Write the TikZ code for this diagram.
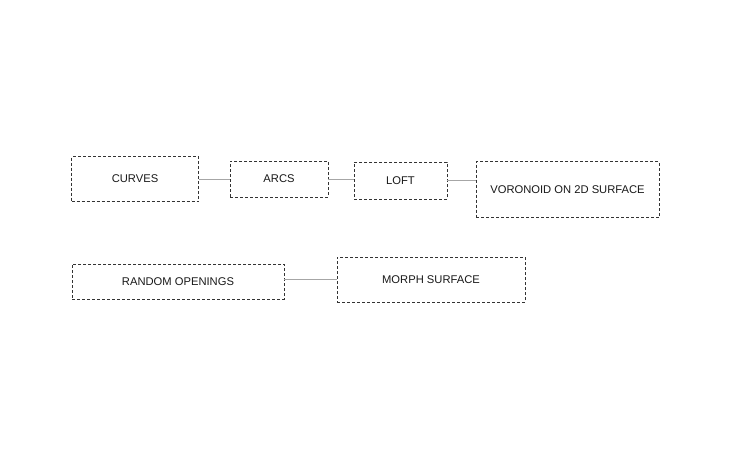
\documentclass[tikz,border=0pt]{standalone}
\usepackage{fontspec}
\setmainfont{Liberation Sans}
\begin{document}
\begin{tikzpicture}[x=1pt,y=-1pt,
  stepbox/.style={draw=black!80, line width=0.9pt, dash pattern=on 3pt off 2pt, rectangle, inner sep=0pt, font=\fontsize{11.2}{13}\selectfont, text=black!90},
  link/.style={draw=black!35, line width=0.9pt}]
\useasboundingbox[fill=white] (0,0) rectangle (730,456);
\node[stepbox, minimum width=127pt, minimum height=45pt] (curves) at (135,179) {CURVES};
\node[stepbox, minimum width=98pt, minimum height=36pt] (arcs) at (279,179) {ARCS};
\node[stepbox, minimum width=93pt, minimum height=37pt] (loft) at (400.5,180.5) {LOFT};
\node[stepbox, minimum width=183pt, minimum height=56pt] (vor) at (567.5,189.5) {VORONOID ON 2D SURFACE};
\node[stepbox, minimum width=212pt, minimum height=35pt] (random) at (178,281.5) {RANDOM OPENINGS};
\node[stepbox, minimum width=188pt, minimum height=45pt] (morph) at (431,279.5) {MORPH SURFACE};
\draw[link] (curves.east) -- (arcs.west);
\draw[link] (arcs.east) -- (arcs.east -| loft.west);
\draw[link] (loft.east) -- (loft.east -| vor.west);
\draw[link] (random.east |- morph.west) -- (morph.west);
\end{tikzpicture}
\end{document}
